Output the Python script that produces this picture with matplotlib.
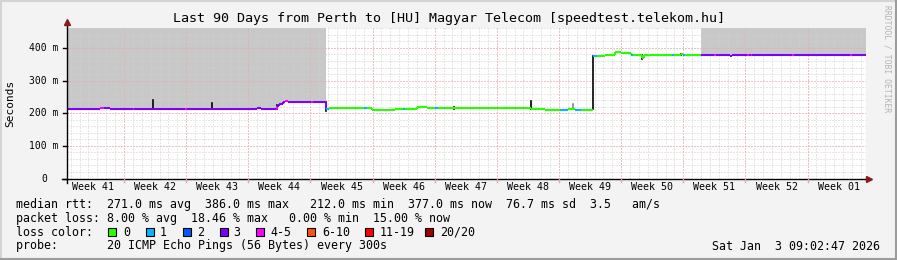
import matplotlib
matplotlib.use("Agg")
import matplotlib.pyplot as plt
import matplotlib.transforms as mtransforms
from matplotlib.patches import Rectangle
from matplotlib.lines import Line2D

# median rtt, stepwise: start day, value (ms), loss class
seg_day = [0, 3.7, 4.2, 4.8, 7.4, 7.6, 13.3, 13.5, 21.4, 21.9, 23.5, 23.65, 23.9, 24.3,
           24.6, 24.85, 27.5, 27.7, 29.15, 29.5, 33.5, 33.8, 34.4, 36.9, 37.9, 38.1, 39.4,
           40.6, 41.5, 41.8, 52.3, 53.8, 55.5, 56.4, 57.2, 57.9, 59.2, 59.75, 60.65, 61.75,
           62.45, 63.55, 63.8, 64.8, 65.0, 68.2, 68.4, 69.2, 69.4, 69.6, 71.45, 72.9, 73.1,
           74.7, 74.9, 76.6, 76.8, 77.0, 77.2, 81.7, 81.9, 88.2, 88.4]
seg_rtt = [214, 217, 217, 214, 214, 214, 214, 214, 216, 214, 214, 222, 228, 233,
           237, 233, 233, 233, 214, 215, 215, 215, 211, 214, 214, 214, 218,
           215, 215, 215, 213, 211, 211, 213, 211, 211, 374, 376, 378, 386,
           384, 377, 377, 368, 377, 377, 377, 381, 377, 377, 377, 377, 377,
           374, 377, 377, 377, 377, 377, 377, 377, 377, 377]
seg_loss = [3, 4, 3, 3, 4, 3, 4, 3, 3, 3, 4, 3, 3, 3,
            4, 3, 4, 3, 1, 0, 1, 0, 0, 0, 1, 0, 0,
            0, 1, 0, 0, 0, 1, 0, 1, 0, 1, 0, 0, 0,
            0, 1, 0, 0, 0, 1, 0, 0, 1, 0, 3, 4, 3,
            3, 3, 4, 3, 4, 3, 4, 3, 4, 3]
end_day = 90

# dark spikes: day, low, high
spike_day = [9.7, 16.3, 23.6, 29.15, 43.6, 52.3, 59.2, 64.8, 69.2]
spike_lo = [214, 214, 214, 208, 214, 213, 214, 366, 377]
spike_hi = [240, 232, 226, 233, 219, 238, 376, 377, 382]

# gray smoke regions (days)
shade_from = [0, 71.45]
shade_to = [29.15, 90]

week_labels = ["Week 41", "Week 42", "Week 43", "Week 44", "Week 45", "Week 46", "Week 47",
               "Week 48", "Week 49", "Week 50", "Week 51", "Week 52", "Week 01"]
first_week_start = 6.42

loss_labels = ["0", "1", "2", "3", "4-5", "6-10", "11-19", "20/20"]
loss_colors = ["#26ff00", "#00b8ff", "#0059ff", "#7e00ff", "#ff00ff", "#ff5500", "#ff0000", "#a10000"]

W, H = 897, 260
def fx(px):
    return px / W
def fy(py):
    return 1 - py / H

mono = "DejaVu Sans Mono"
plt.rcParams['font.family'] = mono

fig = plt.figure(figsize=(W / 100, H / 100), dpi=100)
fig.patch.set_facecolor("#f3f3f3")

# frame
fig.add_artist(Line2D([0, 1], [fy(0.5), fy(0.5)], color="#d4d4d4", lw=1.5))
fig.add_artist(Line2D([fx(0.5), fx(0.5)], [0, 1], color="#d4d4d4", lw=1.5))
fig.add_artist(Line2D([0, 1], [fy(259), fy(259)], color="#9c9c9c", lw=1.5))
fig.add_artist(Line2D([fx(896), fx(896)], [0, 1], color="#9c9c9c", lw=1.5))

ax = fig.add_axes([fx(67), fy(178.5), fx(866) - fx(67), (178.5 - 28) / H])
ymax = 461
ax.set_xlim(0, end_day)
ax.set_ylim(0, ymax)
ax.set_facecolor("white")

xs = seg_day + [end_day]
ys = seg_rtt + [seg_rtt[-1]]

# smoke shading above the median
for a, b in zip(shade_from, shade_to):
    px_, py_ = [], []
    for i in range(len(seg_day)):
        s, e = seg_day[i], xs[i + 1]
        if e <= a or s >= b:
            continue
        px_ += [max(s, a), min(e, b)]
        py_ += [seg_rtt[i], seg_rtt[i]]
    ax.fill_between(px_, py_, ymax, color="#c8c8c8", lw=0, zorder=1)

# grid
major = [first_week_start + 7 * k for k in range(12)]
minor = [first_week_start - 6 + k for k in range(90) if first_week_start - 6 + k < 90]
for d in minor:
    ax.axvline(d, color="#d0d0d0", lw=0.72, ls=(0, (1, 2)), zorder=2)
for v in range(20, 461, 20):
    ax.axhline(v, color="#d0d0d0", lw=0.72, ls=(0, (1, 2)), zorder=2)
for d in major:
    ax.axvline(d, color="#f0a0a0", lw=0.72, ls=(0, (1, 2)), zorder=2.1)
for v in [100, 200, 300, 400]:
    ax.axhline(v, color="#f0a0a0", lw=0.72, ls=(0, (1, 2)), zorder=2.1)

# spikes
for d, lo, hi in zip(spike_day, spike_lo, spike_hi):
    ax.plot([d, d], [lo, hi], color="black", lw=1.2, zorder=3)
ax.plot([57.0, 57.0], [213, 228], color="#888888", lw=1.2, zorder=3)

# median line coloured by loss
for i in range(len(seg_day)):
    c = loss_colors[seg_loss[i]]
    ax.plot([xs[i], xs[i + 1]], [ys[i], ys[i]], color=c, lw=1.5,
            solid_capstyle="butt", zorder=4)
    if i + 1 < len(seg_day) and abs(ys[i + 1] - ys[i]) < 20:
        ax.plot([xs[i + 1], xs[i + 1]], [ys[i], ys[i + 1]], color=c, lw=1.5,
                solid_capstyle="butt", zorder=4)

for s in ax.spines.values():
    s.set_visible(False)
ax.set_xticks([])
ax.set_yticks([])

# axes lines with arrows
fig.add_artist(Line2D([fx(67), fx(67)], [fy(183), fy(24)], color="black", lw=1))
fig.add_artist(Line2D([fx(62), fx(866)], [fy(178.5), fy(178.5)], color="black", lw=1))
fig.add_artist(Line2D([fx(67)], [fy(22)], marker="^", ms=4.5, color="#8b1a1a", lw=0))
fig.add_artist(Line2D([fx(868.5)], [fy(178.5)], marker=">", ms=4.5, color="#8b1a1a", lw=0))

# y tick marks and labels
for v, lab in zip([0, 100, 200, 300, 400], ["0", "100 m", "200 m", "300 m", "400 m"]):
    py = 178.5 - v * (178.5 - 28) / ymax
    fig.add_artist(Line2D([fx(63), fx(67)], [fy(py), fy(py)], color="black", lw=1))
    xr = 47.5 if v == 0 else 58
    fig.text(fx(xr), fy(py), lab, ha="right", va="center", fontsize=7, family=mono)
for d in major:
    px = 67 + d * 799 / 90
    fig.add_artist(Line2D([fx(px), fx(px)], [fy(178.5), fy(182)], color="#f0a0a0", lw=1))

# week labels
label_tr = mtransforms.blended_transform_factory(ax.transData, fig.transFigure)
for k, lab in enumerate(week_labels):
    d = first_week_start - 3.5 + 7 * k
    ax.text(d, fy(186.5), lab, transform=label_tr, ha="center", va="center",
            fontsize=7.2, family=mono)

fig.text(0.5, fy(18.5), "Last 90 Days from Perth to [HU] Magyar Telecom [speedtest.telekom.hu]",
         ha="center", va="center", fontsize=9.6, family=mono)
fig.text(fx(10), fy(103), "Seconds", rotation=90, ha="center", va="center", fontsize=8, family=mono)
fig.text(fx(887), fy(5), "RRDTOOL / TOBI OETIKER", rotation=-90, ha="center", va="top",
         fontsize=5.8, family=mono, color="#b4b4b4")

fs = 8.35
fig.text(fx(16), fy(204.5), "median rtt:  271.0 ms avg  386.0 ms max   212.0 ms min  377.0 ms now  76.7 ms sd  3.5   am/s",
         ha="left", va="center", fontsize=fs, family=mono)
fig.text(fx(16), fy(218.5), "packet loss: 8.00 % avg  18.46 % max   0.00 % min  15.00 % now",
         ha="left", va="center", fontsize=fs, family=mono)
fig.text(fx(16), fy(232), "loss color:", ha="left", va="center", fontsize=fs, family=mono)
box_x = [108, 145.5, 183, 219.5, 256, 307, 365, 425]
text_x = [123, 160, 197, 233, 270, 322, 380, 440]
for bx, tx, lab, c in zip(box_x, text_x, loss_labels, loss_colors):
    fig.add_artist(Rectangle((fx(bx), fy(236)), 8 / W, 8 / H, facecolor=c, edgecolor="black", lw=0.8))
    fig.text(fx(tx), fy(232), lab, ha="left", va="center", fontsize=fs, family=mono)
fig.text(fx(16), fy(246), "probe:       20 ICMP Echo Pings (56 Bytes) every 300s",
         ha="left", va="center", fontsize=fs, family=mono)
fig.text(fx(880), fy(246), "Sat Jan  3 09:02:47 2026", ha="right", va="center", fontsize=fs, family=mono)

fig.savefig("out.png", dpi=100, facecolor=fig.get_facecolor())
